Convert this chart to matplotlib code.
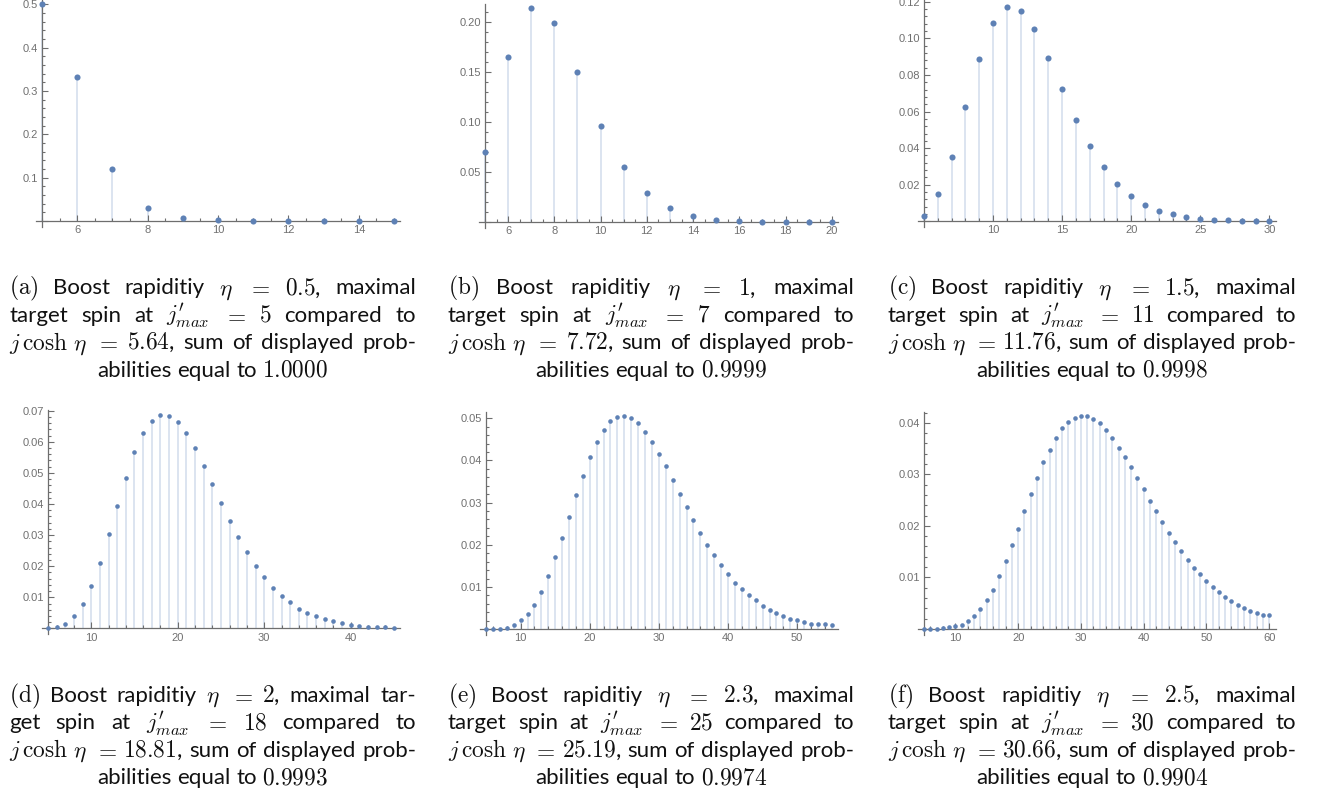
import matplotlib
matplotlib.use("Agg")
import matplotlib.pyplot as plt
from matplotlib.ticker import MultipleLocator, FuncFormatter
import numpy as np

plt.rcParams['mathtext.fontset'] = 'cm'

# ---- data ----
x_a = list(range(5, 16))
p_a = [0.500, 0.333, 0.120, 0.030, 0.006, 0.0015, 0.0004, 0.0001, 0.00003, 0.00001, 0.0]

x_b = list(range(5, 21))
p_b = [0.0699, 0.1654, 0.2137, 0.1991, 0.1498, 0.0962, 0.0553, 0.0290, 0.0143,
       0.0060, 0.0026, 0.0012, 0.0005, 0.0002, 0.0001, 0.00004]

x_c = list(range(5, 31))
p_c = [0.0031, 0.0148, 0.0354, 0.0625, 0.0889, 0.1085, 0.1171, 0.1149, 0.1050,
       0.0895, 0.0723, 0.0555, 0.0413, 0.0298, 0.0205, 0.0137, 0.0089, 0.0057,
       0.0038, 0.0022, 0.0015, 0.0009, 0.0005, 0.0004, 0.0002, 0.0001]

x_d = list(range(5, 46))
p_d = [0.0001, 0.0005, 0.0015, 0.0039, 0.0079, 0.0137, 0.0211, 0.0302, 0.0393,
       0.0484, 0.0566, 0.0627, 0.0667, 0.0687, 0.0684, 0.0663, 0.0627, 0.0579,
       0.0522, 0.0464, 0.0404, 0.0346, 0.0294, 0.0245, 0.0201, 0.0164, 0.0130,
       0.0103, 0.0084, 0.0062, 0.0049, 0.0039, 0.0029, 0.0023, 0.0016, 0.0012,
       0.0009, 0.0006, 0.0005, 0.0005, 0.0002]

x_e = list(range(5, 56))
p_e = [0.0000, 0.0001, 0.0001, 0.0003, 0.0010, 0.0021, 0.0036, 0.0058, 0.0087,
       0.0125, 0.0170, 0.0217, 0.0267, 0.0317, 0.0363, 0.0408, 0.0443, 0.0473,
       0.0493, 0.0503, 0.0506, 0.0500, 0.0488, 0.0468, 0.0443, 0.0416, 0.0386,
       0.0353, 0.0321, 0.0289, 0.0259, 0.0229, 0.0200, 0.0175, 0.0152, 0.0130,
       0.0110, 0.0095, 0.0081, 0.0068, 0.0055, 0.0045, 0.0038, 0.0031, 0.0025,
       0.0021, 0.0018, 0.0013, 0.0011, 0.0011, 0.0009]

x_f = list(range(5, 61))
p_f = [0.0000, 0.0000, 0.0000, 0.0001, 0.0003, 0.0005, 0.0008, 0.0015, 0.0025,
       0.0039, 0.0056, 0.0076, 0.0102, 0.0131, 0.0162, 0.0194, 0.0229, 0.0261,
       0.0293, 0.0323, 0.0348, 0.0371, 0.0389, 0.0401, 0.0410, 0.0414, 0.0414,
       0.0408, 0.0399, 0.0387, 0.0371, 0.0352, 0.0334, 0.0314, 0.0292, 0.0271,
       0.0249, 0.0228, 0.0208, 0.0187, 0.0169, 0.0151, 0.0134, 0.0118, 0.0107,
       0.0092, 0.0082, 0.0071, 0.0061, 0.0054, 0.0047, 0.0041, 0.0035, 0.0031,
       0.0027, 0.0027]

labels = ['a', 'b', 'c', 'd', 'e', 'f']
etas = ['0.5', '1', '1.5', '2', '2.3', '2.5']
jmax = ['5', '7', '11', '18', '25', '30']
jcosh = ['5.64', '7.72', '11.76', '18.81', '25.19', '30.66']
sums = ['1.0000', '0.9999', '0.9998', '0.9993', '0.9974', '0.9904']

series = [(x_a, p_a), (x_b, p_b), (x_c, p_c), (x_d, p_d), (x_e, p_e), (x_f, p_f)]

# ---- layout (pixels) ----
W, H = 1323, 794
# left, top, right, bottom ; xlim ; ylim ; ticks (xmaj, xmin, ymaj, ymin, ydigits)
panels = [
    ((36, 0, 400, 227), (4.83, 15.17), (-0.0138, 0.51), (2, 0.5, 0.1, 0.02, 1)),
    ((479, 4, 838, 228), (4.74, 20.27), (-0.0057, 0.218), (2, 0.5, 0.05, 0.01, 2)),
    ((918, 0, 1276, 227), (4.57, 30.48), (-0.0031, 0.121), (5, 1, 0.02, 0.004, 2)),
    ((42, 410, 400, 634), (4.31, 45.7), (-0.0018, 0.0702), (10, 2, 0.01, 0.002, 2)),
    ((480, 412, 838, 635), (4.13, 55.9), (-0.0014, 0.0515), (10, 2, 0.01, 0.002, 2)),
    ((918, 412, 1276, 635), (4.04, 61.1), (-0.0012, 0.0421), (10, 2, 0.01, 0.002, 2)),
]
cap_x = [(9, 416), (448, 854), (888, 1296), (9, 416), (448, 854), (888, 1296)]
cap_y = [294.5, 294.5, 294.5, 702, 702, 702]
line_h = 27.4

dot = '#5E81B5'
stem = '#D6DFEE'
axc = '#6E6E6E'

fig = plt.figure(figsize=(W / 100, H / 100), dpi=100)

for i, ((l, t, r, b), xl, yl, tk) in enumerate(panels):
    ax = fig.add_axes([l / W, 1 - b / H, (r - l) / W, (b - t) / H])
    xs, ps = series[i]
    ms = 4.4 if i < 3 else 3.3
    ax.vlines(xs, 0, ps, color=stem, lw=1.2, zorder=1)
    ax.plot(xs, ps, 'o', color=dot, ms=ms, mew=0, zorder=3, clip_on=False)
    ax.set_xlim(*xl)
    ax.set_ylim(*yl)
    for s in ['top', 'right']:
        ax.spines[s].set_visible(False)
    ax.spines['left'].set_position(('data', 5))
    ax.spines['bottom'].set_position(('data', 0))
    for s in ['left', 'bottom']:
        ax.spines[s].set_color(axc)
        ax.spines[s].set_linewidth(0.9)
    xmaj, xmin, ymaj, ymin, nd = tk
    ax.xaxis.set_major_locator(MultipleLocator(xmaj))
    ax.xaxis.set_minor_locator(MultipleLocator(xmin))
    ax.yaxis.set_major_locator(MultipleLocator(ymaj))
    ax.yaxis.set_minor_locator(MultipleLocator(ymin))
    ax.xaxis.set_major_formatter(FuncFormatter(
        lambda v, pos: '' if abs(v - 5) < 1e-9 else '%d' % round(v)))
    ax.yaxis.set_major_formatter(FuncFormatter(
        lambda v, pos, nd=nd: '' if abs(v) < 1e-12 else '%.*f' % (nd, v)))
    ax.tick_params(which='both', direction='in', color=axc, width=0.8,
                   labelcolor='#707070', labelsize=8)
    ax.tick_params(which='major', length=4, pad=3)
    ax.tick_params(which='minor', length=2.3)
    for lab in ax.get_xticklabels() + ax.get_yticklabels():
        lab.set_family('Liberation Sans')

# ---- captions, justified like the LaTeX subcaptions ----
cap_font = 'Lato'
cap_fs = 16
math_fs = 16.8


def caption_lines(k):
    e, jm, jc, sm = etas[k], jmax[k], jcosh[k], sums[k]
    jp = r'$j_{max}^{\prime}$'
    if k == 3:
        l1 = [r'$\mathrm{(%s)}$' % labels[k], 'Boost', 'rapiditiy', r'$\eta$',
              r'$=$', '$%s$,' % e, 'maximal', 'tar-']
        l2 = ['get', 'spin', 'at', jp, r'$=$', '$%s$' % jm, 'compared', 'to']
    else:
        l1 = [r'$\mathrm{(%s)}$' % labels[k], 'Boost', 'rapiditiy', r'$\eta$',
              r'$=$', '$%s$,' % e, 'maximal']
        l2 = ['target', 'spin', 'at', jp, r'$=$', '$%s$' % jm, 'compared', 'to']
    l3 = [r'$j\,\cosh\,\eta$', r'$=$', '$%s$,' % jc, 'sum', 'of', 'displayed', 'prob-']
    l4 = ['abilities', 'equal', 'to', '$%s$' % sm]
    return [l1, l2, l3], l4


fig.canvas.draw()
rend = fig.canvas.get_renderer()


def size_of(s):
    return math_fs if s.startswith('$') else cap_fs


def put(x, y, s):
    return fig.text(x / W, 1 - y / H, s, fontsize=size_of(s), family=cap_font,
                    ha='left', va='baseline', color='#111111')


def width_of(s):
    tt = put(0, 0, s)
    w = tt.get_window_extent(rend).width
    tt.remove()
    return w


for k in range(6):
    x0, x1 = cap_x[k]
    lines, last = caption_lines(k)
    for n, toks in enumerate(lines):
        ws = [width_of(s) for s in toks]
        gap = (x1 - x0 - sum(ws)) / (len(toks) - 1)
        xp = x0
        yb = cap_y[k] + n * line_h
        for s, w in zip(toks, ws):
            put(xp, yb, s)
            xp += w + gap
    # last line: natural spacing, centred
    ws = [width_of(s) for s in last]
    sp = width_of('a b') - width_of('ab')
    total = sum(ws) + sp * (len(last) - 1)
    xp = (x0 + x1) / 2 - total / 2
    yb = cap_y[k] + 3 * line_h
    for s, w in zip(last, ws):
        put(xp, yb, s)
        xp += w + sp

fig.savefig('out.png', dpi=100)
